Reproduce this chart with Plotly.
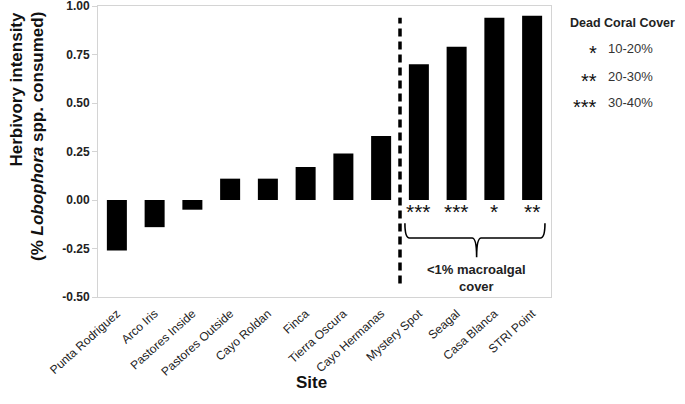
import plotly.graph_objects as go

sites = ["Punta Rodriguez", "Arco Iris", "Pastores Inside", "Pastores Outside",
         "Cayo Roldan", "Finca", "Tierra Oscura", "Cayo Hermanas",
         "Mystery Spot", "Seagal", "Casa Blanca", "STRI Point"]
herbivory = [-0.26, -0.14, -0.05, 0.11, 0.11, 0.17, 0.24, 0.33, 0.70, 0.79, 0.94, 0.95]
dead_coral_stars = ["", "", "", "", "", "", "", "", "***", "***", "*", "**"]
legend_stars = ["*", "**", "***"]
legend_labels = ["10-20%", "20-30%", "30-40%"]
y_ticks = [-0.50, -0.25, 0.00, 0.25, 0.50, 0.75, 1.00]

FONT = "Liberation Sans, Arial, sans-serif"
xs = list(range(len(sites)))

fig = go.Figure()
fig.add_trace(go.Bar(x=xs, y=herbivory, width=0.53,
                     marker=dict(color="black", line=dict(width=0)),
                     showlegend=False, hoverinfo="skip"))

# dashed divider between Cayo Hermanas and Mystery Spot
fig.add_shape(type="line", xref="x", yref="y", x0=7.5, x1=7.5, y0=-0.43, y1=0.94,
              line=dict(color="black", width=3.5, dash="8px,5px"))

# stars under bars
for i, s in enumerate(dead_coral_stars):
    if s:
        fig.add_annotation(x=xs[i], y=0.0, xref="x", yref="y", text=s,
                           showarrow=False, yanchor="top", yshift=2,
                           font=dict(family=FONT, size=21, color="#111"))

# brace
bl, br, bm = 7.63, 11.34, 9.53
yt, yh, ytip = -0.12, -0.196, -0.295
path = (f"M {bl},{yt} Q {bl},{yh} {bl+0.12},{yh} L {bm-0.12},{yh} "
        f"Q {bm},{yh} {bm},{ytip} Q {bm},{yh} {bm+0.12},{yh} "
        f"L {br-0.12},{yh} Q {br},{yh} {br},{yt}")
fig.add_shape(type="path", xref="x", yref="y", path=path,
              line=dict(color="black", width=1.6))
fig.add_annotation(x=bm, y=-0.40, xref="x", yref="y",
                   text="<b>&lt;1% macroalgal<br>cover</b>", showarrow=False,
                   font=dict(family=FONT, size=13, color="#222"))

# legend-like annotations (pixel rows: 23, 48, 76, 102)
def py(p):
    return (297 - p) / 291

def px(p):
    return (p - 98) / 453

fig.add_annotation(x=px(568), y=py(23), xref="paper", yref="paper",
                   text="<b>Dead Coral Cover</b>", showarrow=False,
                   xanchor="left", yanchor="middle",
                   font=dict(family=FONT, size=12.5, color="#222"))
for k, (s, lab) in enumerate(zip(legend_stars, legend_labels)):
    yy = py([48, 76, 102][k])
    fig.add_annotation(x=px(599), y=yy, xref="paper", yref="paper", text=s,
                       showarrow=False, xanchor="right", yanchor="middle",
                       yshift=-5,
                       font=dict(family=FONT, size=20, color="#111"))
    fig.add_annotation(x=px(606), y=yy, xref="paper", yref="paper", text=lab,
                       showarrow=False, xanchor="left", yanchor="middle",
                       font=dict(family=FONT, size=13, color="#333"))

# y title (two lines, top aligned)
fig.add_annotation(x=px(16), y=py(10), xref="paper", yref="paper",
                   text="<b>Herbivory intensity</b>", textangle=-90,
                   showarrow=False, xanchor="center", yanchor="top",
                   font=dict(family=FONT, size=17, color="#111"))
fig.add_annotation(x=px(37.5), y=py(10), xref="paper", yref="paper",
                   text="<b>(% <i>Lobophora</i> spp. consumed)</b>", textangle=-90,
                   showarrow=False, xanchor="center", yanchor="top",
                   font=dict(family=FONT, size=17, color="#111"))
fig.add_annotation(x=px(311), y=py(394), xref="paper", yref="paper",
                   text="<b>Site</b>", showarrow=False,
                   font=dict(family=FONT, size=17, color="#111"))

fig.update_layout(
    width=685, height=404,
    margin=dict(l=98, r=134, t=6, b=107, autoexpand=False),
    paper_bgcolor="white", plot_bgcolor="white",
    bargap=0.47,
    xaxis=dict(range=[-0.5, 11.5], tickmode="array", tickvals=xs, ticktext=sites,
               tickangle=-42, showgrid=False, zeroline=False, automargin=False,
               showline=True, linecolor="#d4d4d4", linewidth=1, mirror=True,
               ticks="", ticklabelstandoff=4,
               tickfont=dict(family=FONT, size=12, color="#222")),
    yaxis=dict(range=[-0.5, 1.0], tickmode="array", tickvals=y_ticks,
               ticktext=[f"<b>{v:.2f}</b>" for v in y_ticks], automargin=False,
               showgrid=False, zeroline=False, ticklabeloverflow="allow",
               showline=True, linecolor="#d4d4d4", linewidth=1, mirror=True,
               ticks="outside", ticklen=5, tickcolor="#d4d4d4",
               tickfont=dict(family=FONT, size=12, color="#222")),
)

fig.write_html("out.html", config={"displayModeBar": False},
               post_script="document.body.style.margin='0px';")
